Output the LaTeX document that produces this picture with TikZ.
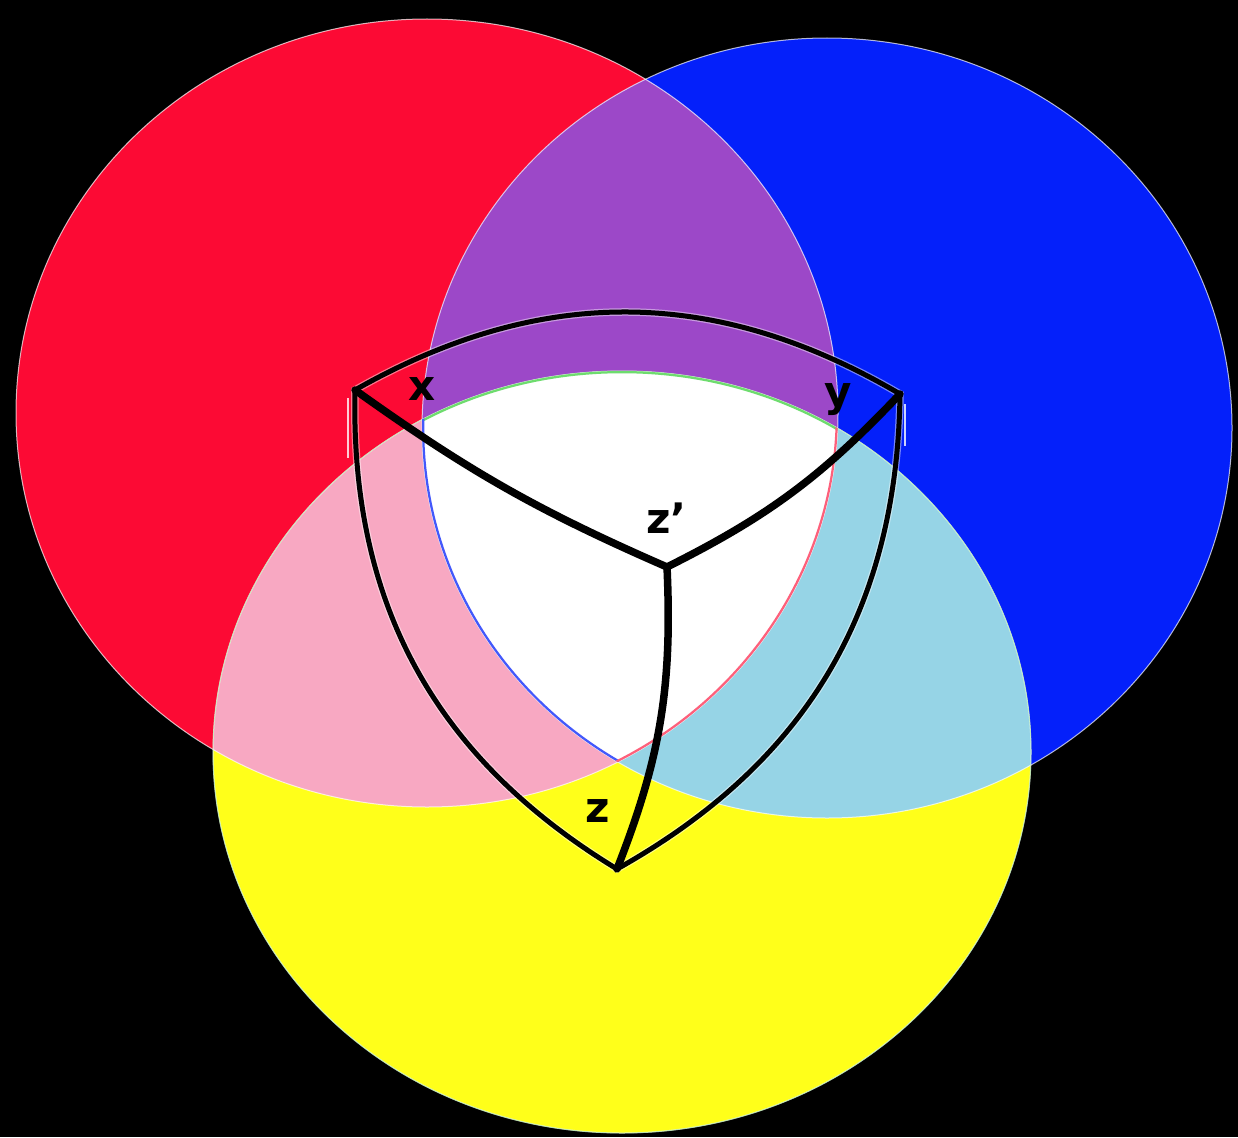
\documentclass[tikz,border=0pt]{standalone}
\usepackage{fontspec}
\newfontfamily\lblfont{DejaVu Sans}
\definecolor{cred}{RGB}{252,10,52}
\definecolor{cblue}{RGB}{4,32,250}
\definecolor{cyellow}{RGB}{255,255,26}
\definecolor{cpurple}{RGB}{156,72,200}
\definecolor{cpink}{RGB}{248,168,194}
\definecolor{clblue}{RGB}{150,212,230}
\definecolor{cgreen}{RGB}{110,220,110}
\def\redE{(427,413) ellipse [x radius=411pt, y radius=394pt]}
\def\blueE{(827,428) ellipse [x radius=405pt, y radius=390pt]}
\def\yellowE{(622,752) ellipse [x radius=409pt, y radius=381pt]}
\begin{document}
\begin{tikzpicture}[x=1pt,y=-1pt,
  edge/.style={draw=white, line width=1pt, opacity=0.7},
  innerline/.style={line width=4.5pt},
  arcline/.style={draw=black, line width=5pt,
     preaction={draw=white, line width=7.5pt, opacity=0.45}},
  spoke/.style={draw=black, line width=7.5pt, line cap=round, line join=round},
  lbl/.style={inner sep=0pt, text=black, font=\lblfont\bfseries\fontsize{42}{42}\selectfont},
  artifact/.style={draw=white, line width=1.6pt, opacity=0.8}]
\useasboundingbox (0,0) rectangle (1238,1137);
\fill[black] (0,0) rectangle (1238,1137);
% base circles
\fill[cred] \redE;
\fill[cblue] \blueE;
\fill[cyellow] \yellowE;
% pairwise intersections
\begin{scope}\clip \redE; \fill[cpurple] \blueE; \end{scope}
\begin{scope}\clip \redE; \fill[cpink] \yellowE; \end{scope}
\begin{scope}\clip \blueE; \fill[clblue] \yellowE; \end{scope}
\begin{scope}\clip \redE; \clip \blueE; \fill[white] \yellowE; \end{scope}
% thin light boundaries
\path[edge] \redE;
\path[edge] \blueE;
\path[edge] \yellowE;
\draw[cgreen!60!white, line width=0.8pt, opacity=0.6] \yellowE;
% coloured boundaries inside the white region
\begin{scope}\clip \redE; \clip \blueE; \clip \yellowE;
  \draw[innerline, cgreen] \yellowE;
  \draw[innerline, cblue!75!white] \blueE;
  \draw[innerline, cred!65!white] \redE;
\end{scope}
% Reuleaux triangle
\coordinate (X) at (355,390);
\coordinate (Y) at (900,394);
\coordinate (Z) at (617,869);
\coordinate (C) at (667,567);
\coordinate (ax1) at (348,398);
\coordinate (ax2) at (348,458);
\coordinate (ay1) at (905,404);
\coordinate (ay2) at (905,446);
\draw[artifact] (ax1) -- (ax2);
\draw[artifact] (ay1) -- (ay2);
\draw[arcline, line join=miter] (X) to[bend left=30] (Y) to[bend left=30] (Z) to[bend left=30] (X) -- cycle;
\draw[spoke] (X) to[bend right=6] (C);
\draw[spoke] (Y) to[bend left=10] (C);
\draw[spoke] (C) to[bend left=12] (Z);
% labels
\node[lbl, anchor=base] (lx) at (422,400) {x};
\node[lbl, anchor=base] (ly) at (838,406) {y};
\node[lbl, anchor=base west] (lzp) at (646,533) {z\textquoteright};
\node[lbl, anchor=base] (lz) at (598,822) {z};
\end{tikzpicture}
\end{document}
